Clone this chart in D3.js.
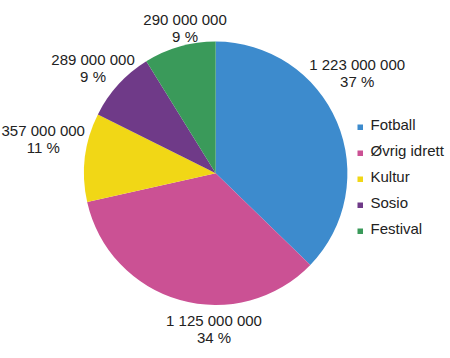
<!DOCTYPE html>
<html>
<head>
<meta charset="utf-8">
<script src="https://cdn.jsdelivr.net/npm/d3@7"></script>
<style>
  html, body { margin: 0; padding: 0; background: #fff; }
  svg { display: block; font-family: "Liberation Sans", Arial, sans-serif; }
</style>
</head>
<body>
<svg id="chart" width="450" height="358"></svg>
<script>
// ---- data ----
const categories = ["Fotball", "Øvrig idrett", "Kultur", "Sosio", "Festival"];
const values = [1223000000, 1125000000, 357000000, 289000000, 290000000];
const colors = ["#3d8bcd", "#cb5194", "#f1d716", "#6f3a88", "#3a9a5a"];

// ---- layout ----
const W = 450, H = 358;
const cx = 215.7, cy = 173.3, R = 131.7;
const labelR = R + 35;
// label nudges relative to the arc-centroid anchor (Excel-like label placement)
const labelNudge = [[-12, -38], [43.5, -8], [-7, -17], [0.5, 4], [15, 12]];

const svg = d3.select("#chart");
const locale = d3.formatLocale({ decimal: ",", thousands: " ", grouping: [3], currency: ["", " kr"] });
const fmt = locale.format(",d");
const total = d3.sum(values);

const data = categories.map((c, i) => ({ name: c, value: values[i], color: colors[i] }));
const pie = d3.pie().sort(null).value(d => d.value).startAngle(0).endAngle(2 * Math.PI);
const arcs = pie(data);
const arc = d3.arc().innerRadius(0).outerRadius(R);
const labelArc = d3.arc().innerRadius(labelR).outerRadius(labelR);

const g = svg.append("g").attr("transform", `translate(${cx},${cy})`);
g.selectAll("path.slice")
  .data(arcs)
  .join("path")
  .attr("class", "slice")
  .attr("d", arc)
  .attr("fill", d => d.data.color);

const labels = g.selectAll("text.lbl")
  .data(arcs)
  .join("text")
  .attr("class", "lbl")
  .attr("text-anchor", "middle")
  .attr("font-size", 15)
  .attr("fill", "#222")
  .attr("transform", (d, i) => {
    const [x, y] = labelArc.centroid(d);
    return `translate(${x + labelNudge[i][0]},${y + labelNudge[i][1]})`;
  });
labels.append("tspan").attr("x", 0).attr("y", 0).text(d => fmt(d.data.value));
labels.append("tspan").attr("x", 0).attr("y", 17)
  .text(d => Math.round(d.data.value / total * 100) + " %");

// ---- legend ----
const legend = svg.append("g").attr("transform", "translate(357.5,130)");
const rowH = 26;
const items = legend.selectAll("g.item")
  .data(data)
  .join("g")
  .attr("class", "item")
  .attr("transform", (d, i) => `translate(0,${i * rowH})`);
items.append("rect")
  .attr("x", 0).attr("y", -5.5)
  .attr("width", 5.5).attr("height", 5.5)
  .attr("fill", d => d.color);
items.append("text")
  .attr("x", 13).attr("y", 0)
  .attr("font-size", 15)
  .attr("fill", "#222")
  .text(d => d.name);
</script>
</body>
</html>
